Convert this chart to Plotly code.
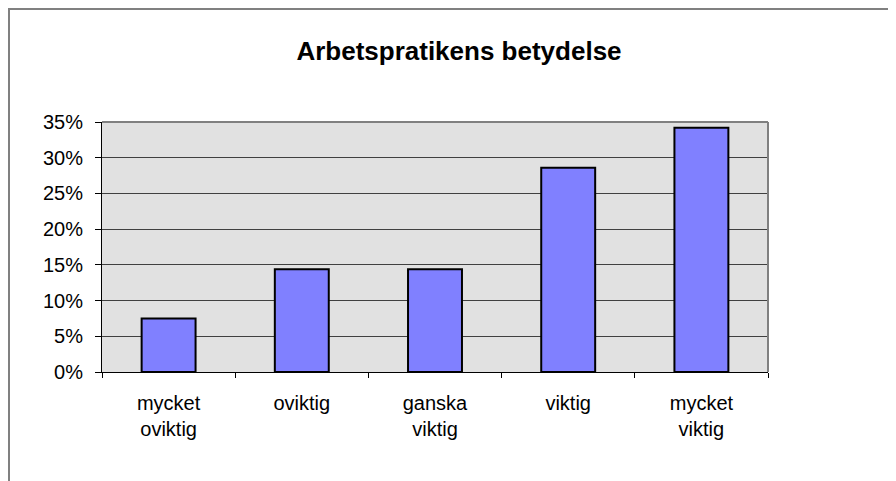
import plotly.graph_objects as go

categories = ["mycket oviktig", "oviktig", "ganska viktig", "viktig", "mycket viktig"]
values = [7.5, 14.4, 14.4, 28.6, 34.2]
y_ticks = [0, 5, 10, 15, 20, 25, 30, 35]
y_tick_labels = [f"{v}%" for v in y_ticks]
title_text = "Arbetspratikens betydelse"

tick_text = [c.replace(" ", "<br>") for c in categories]

FONT = "Liberation Sans, Arial, sans-serif"

# the page body adds an 8px offset; figure sized to fit the window
W, H = 888, 473
L, R, T, B = 94, 128, 114, 109
PW, PH = W - L - R, H - T - B

fig = go.Figure(
    go.Bar(
        x=categories,
        y=values,
        marker=dict(color="#8080ff", line=dict(color="#000000", width=2)),
        hoverinfo="skip",
    )
)

fig.update_layout(
    width=W,
    height=H,
    margin=dict(l=L, r=R, t=T, b=B),
    paper_bgcolor="#ffffff",
    plot_bgcolor="#e1e1e1",
    bargap=0.595,
    showlegend=False,
    font=dict(family=FONT, size=20, color="#000000"),
    title=dict(
        text="<b>" + title_text + "</b>",
        font=dict(family=FONT, size=26, color="#000000"),
        x=(459 - 8) / W,
        xanchor="center",
        xref="container",
        y=1 - (51 - 8) / H,
        yanchor="middle",
        yref="container",
    ),
    shapes=[
        # outer chart border (left/top visible)
        dict(type="rect", xref="paper", yref="paper",
             x0=(1 - L) / PW, x1=2.0, y0=-1.0, y1=(T + PH - 1) / PH,
             line=dict(color="#808080", width=2), fillcolor="rgba(0,0,0,0)", layer="above"),
        # plot area top and right border
        dict(type="line", xref="paper", yref="paper", x0=0, x1=1, y0=1, y1=1,
             line=dict(color="#808080", width=2)),
        dict(type="line", xref="paper", yref="paper", x0=1, x1=1, y0=0, y1=1,
             line=dict(color="#808080", width=2)),
    ],
)

fig.update_xaxes(
    tickmode="array",
    tickvals=categories,
    ticktext=tick_text,
    tickson="boundaries",
    ticks="outside",
    ticklen=5,
    tickcolor="#000000",
    showline=True,
    linecolor="#000000",
    linewidth=1,
    showgrid=False,
    ticklabelstandoff=13,
    tickfont=dict(family=FONT, size=20),
    fixedrange=True,
)

fig.update_yaxes(
    range=[0, 35],
    tickmode="array",
    tickvals=y_ticks,
    ticktext=y_tick_labels,
    ticks="outside",
    ticklen=6,
    tickcolor="#000000",
    showline=True,
    linecolor="#000000",
    linewidth=1,
    showgrid=True,
    gridcolor="#404040",
    gridwidth=1,
    zeroline=False,
    ticklabelstandoff=8,
    tickfont=dict(family=FONT, size=20),
    fixedrange=True,
)

fig.write_html("out.html", config={"displayModeBar": False})
